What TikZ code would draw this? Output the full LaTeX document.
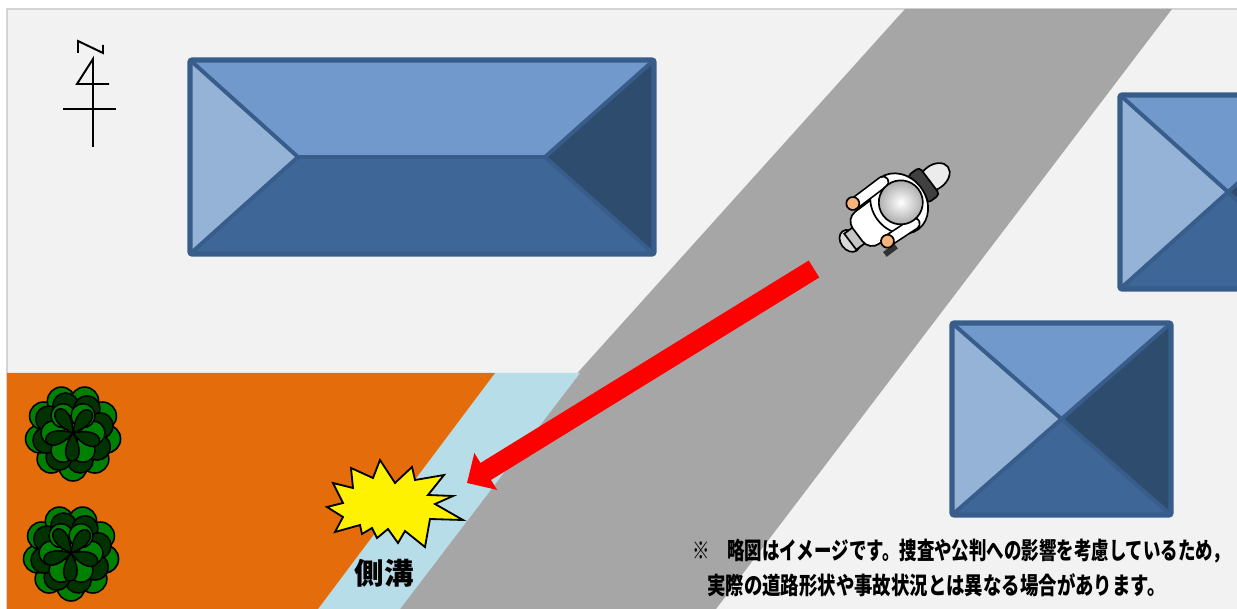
\documentclass[tikz,border=0pt]{standalone}
\usepackage{fontspec}
\usepackage{tikz}
\usetikzlibrary{arrows.meta}
\newfontfamily\jpfont{Noto Sans CJK JP}

\definecolor{ground}{HTML}{F2F2F2}
\definecolor{frame}{HTML}{D4D4D4}
\definecolor{road}{HTML}{A6A6A6}
\definecolor{ditch}{HTML}{B7DDE8}
\definecolor{field}{HTML}{E46C0A}
\definecolor{rooftop}{HTML}{7299CB}
\definecolor{roofleft}{HTML}{95B3D7}
\definecolor{roofbottom}{HTML}{3E6697}
\definecolor{roofright}{HTML}{2E4C6E}
\definecolor{roofedge}{HTML}{385D8A}
\definecolor{leaflight}{HTML}{008000}
\definecolor{leafdark}{HTML}{003300}
\definecolor{skin}{HTML}{F5B57A}

\tikzset{
  roofline/.style={draw=roofedge, line width=2.8pt, line join=round},
  roofborder/.style={draw=roofedge, line width=3.6pt, rounded corners=0.05cm},
  northmark/.style={draw=black, line width=1.4pt},
  leaf/.style={draw=black, line width=1.1pt},
  burst/.style={fill=yellow, draw=black, line width=1.3pt, line join=miter},
  skidarrow/.style={draw=red, line width=14.2pt, -{Triangle[length=0.55cm,width=1.05cm]}},
  bikeline/.style={draw=black, line width=1.2pt},
  notetext/.style={inner sep=0pt, font=\jpfont\bfseries\fontsize{17pt}{20pt}\selectfont},
}

\newcommand{\bushat}[2]{%
  \begin{scope}[shift={(#1,#2)}]
    \foreach \a in {10,50,...,370} \draw[leaf, fill=leaflight] (\a:34) circle (14);
    \foreach \a in {30,75,...,390} \draw[leaf, fill=leafdark] (\a:28) circle (13);
    \foreach \a in {0,60,...,300} \draw[leaf, fill=leaflight] (\a:20) circle (12);
    \foreach \a in {20,92,...,308}
      \draw[leaf, fill=leafdark] (0,0) .. controls (\a-32:44) and (\a+32:44) .. (0,0);
  \end{scope}}

\begin{document}
\begin{tikzpicture}[x=0.025cm, y=-0.025cm]
\useasboundingbox (0,0) rectangle (1237,609);
\fill[white] (0,0) rectangle (1237,609);
\fill[ground] (7,9) rectangle (1237,609);
\draw[frame, line width=0.8pt] (7,609) -- (7,9) -- (1237,9);

% road, ditch and field
\fill[road] (905,9) -- (1172,9) -- (716,609) -- (365,609) -- cycle;
\fill[ditch] (495,373) -- (580,373) -- (400,609) -- (318,609) -- cycle;
\fill[field] (7,373) -- (495,373) -- (318,609) -- (7,609) -- cycle;

% north mark
\draw[northmark] (93,147) -- (93,59) -- (77,84) -- (109,84);
\draw[northmark] (63,109) -- (116,109);
\draw[northmark] (78,53) -- (78,41) -- (103,53) -- (103,45);

% houses
\fill[rooftop] (190,60) -- (654,60) -- (545,157) -- (298,157) -- cycle;
\fill[roofleft] (190,60) -- (298,157) -- (190,254) -- cycle;
\fill[roofbottom] (190,254) -- (298,157) -- (545,157) -- (654,254) -- cycle;
\fill[roofright] (654,60) -- (654,254) -- (545,157) -- cycle;
\draw[roofline] (190,60) -- (298,157) -- (190,254) (298,157) -- (545,157) (654,60) -- (545,157) -- (654,254);
\draw[roofborder] (190,60) rectangle (654,254);

\fill[rooftop] (952,323) -- (1171,323) -- (1062,419) -- cycle;
\fill[roofleft] (952,323) -- (1062,419) -- (952,515) -- cycle;
\fill[roofbottom] (952,515) -- (1062,419) -- (1171,515) -- cycle;
\fill[roofright] (1171,323) -- (1171,515) -- (1062,419) -- cycle;
\draw[roofline] (952,323) -- (1171,515) (1171,323) -- (952,515);
\draw[roofborder] (952,323) rectangle (1171,515);

\begin{scope}
  \clip (1000,0) rectangle (1237,609);
  \fill[rooftop] (1120,95) -- (1336,95) -- (1228,192) -- cycle;
  \fill[roofleft] (1120,95) -- (1228,192) -- (1120,289) -- cycle;
  \fill[roofbottom] (1120,289) -- (1228,192) -- (1336,289) -- cycle;
  \fill[roofright] (1336,95) -- (1336,289) -- (1228,192) -- cycle;
  \draw[roofline] (1120,95) -- (1336,289) (1336,95) -- (1120,289);
  \draw[roofborder] (1120,95) rectangle (1336,289);
\end{scope}

% bushes
\bushat{73}{433}
\bushat{71}{553}

% motorcycle seen from above
\begin{scope}[shift={(896,206)}, rotate=217]
  \draw[bikeline, fill=gray!15] (-48,0) ellipse (17 and 12);
  \draw[bikeline, fill=black!75, rounded corners=0.1cm] (-42,-17) rectangle (-27,17);
  \draw[bikeline, fill=gray!30] (58,0) ellipse (9 and 12);
  \draw[bikeline, fill=gray!45] (44,-11) rectangle (58,9);
  \draw[bikeline, fill=white, rounded corners=0.3cm] (-30,-20) rectangle (48,20);
  \draw[bikeline, fill=white] (-4,0) ellipse (27 and 32);
  \draw[black, line width=9pt, line cap=round] (-4,27) -- (31,27) (-4,-25) -- (27,-23);
  \draw[white, line width=6.6pt, line cap=round] (-4,27) -- (31,27) (-4,-25) -- (27,-23);
  \fill[black!80] (24,-29) rectangle (38,-35);
  \draw[bikeline, fill=skin] (33,28) circle (6.5);
  \draw[bikeline, fill=skin] (28,-23) circle (6.5);
  \shade[inner color=white, outer color=gray!70, draw=black, line width=1.2pt] (-6,0) circle (22);
\end{scope}

% crash point and skid
\filldraw[burst] (380,460) -- (395,483) -- (412,467) -- (415,480) -- (444,475) -- (428,495)
  -- (453,496) -- (435,504) -- (463,520) -- (430,519) -- (425,547) -- (405,531) -- (398,543)
  -- (388,529) -- (377,538) -- (372,528) -- (362,534) -- (360,525) -- (335,532) -- (343,517)
  -- (327,507) -- (343,503) -- (333,483) -- (353,488) -- (351,468) -- (373,478) -- cycle;
\coordinate (biketail) at (814,269);
\coordinate (crash) at (467,483);
\draw[skidarrow] (biketail) -- (crash);

\node[font=\jpfont\bfseries\fontsize{21pt}{24pt}\selectfont, inner sep=0pt] (ditchlabel) at (384,573) {側溝};

% note
\node[notetext, anchor=west] (note1) at (692,551) {\scalebox{0.73}[1]{※　略図はイメージです。捜査や公判への影響を考慮しているため，}};
\node[notetext, anchor=west] (note2) at (707,585) {\scalebox{0.77}[1]{実際の道路形状や事故状況とは異なる場合があります。}};
\end{tikzpicture}
\end{document}
